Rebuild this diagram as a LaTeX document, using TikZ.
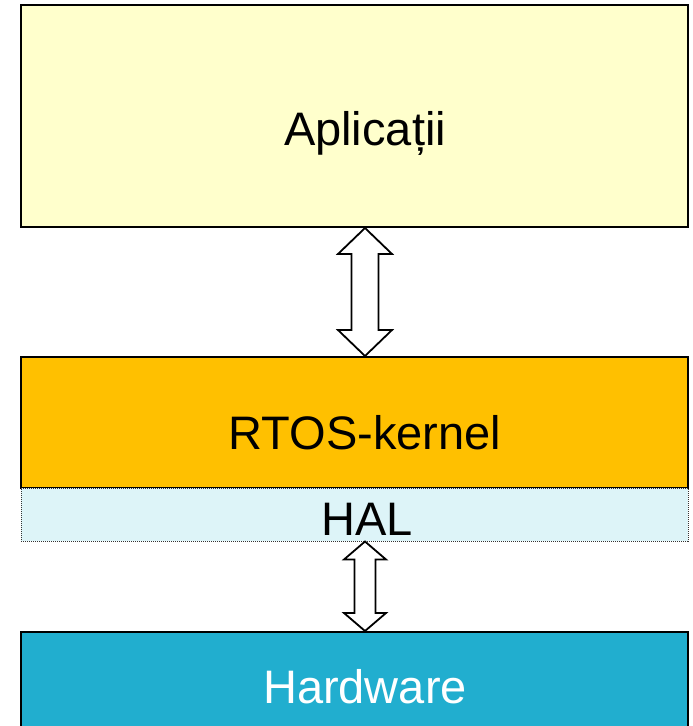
\documentclass[tikz,border=0pt]{standalone}
\usepackage{fontspec}
\setmainfont{Liberation Sans}
\usetikzlibrary{calc}
\definecolor{appfill}{HTML}{FFFFCC}
\definecolor{kernelfill}{HTML}{FFC000}
\definecolor{halfill}{HTML}{DDF4F8}
\definecolor{hwfill}{HTML}{21AECF}
\tikzset{
  layer/.style={draw=black, line width=2pt, rectangle, inner sep=0pt},
  label/.style={anchor=base, inner sep=0pt, font=\fontsize{47}{47}\selectfont},
  flow/.style={draw=black, line width=1.8pt, fill=white, line join=miter},
}
% double-headed block arrow between two anchors:
% #1 top tip, #2 bottom tip, #3 head half-width, #4 head length, #5 shaft half-width
\newcommand\blockarrow[5]{%
  \draw[flow] (#1) -- ($(#1)+(#3,#4)$) -- ($(#1)+(#5,#4)$)
    -- ($(#2)+(#5,-#4)$) -- ($(#2)+(#3,-#4)$) -- (#2)
    -- ($(#2)+(-#3,-#4)$) -- ($(#2)+(-#5,-#4)$)
    -- ($(#1)+(-#5,#4)$) -- ($(#1)+(-#3,#4)$) -- cycle;}
\begin{document}
\begin{tikzpicture}[x=1pt, y={(0,-1pt)}]
  \useasboundingbox (0,0) rectangle (693,726);
  \begin{scope}
    \clip (0,0) rectangle (693,726);
    % layers
    \node[layer, fill=appfill, minimum width=667pt, minimum height=222pt] (app) at (354.5,116) {};
    \node[layer, fill=kernelfill, minimum width=667pt, minimum height=131pt] (kernel) at (354.5,422.5) {};
    \node[rectangle, draw=black!80, densely dotted, line width=1pt, fill=halfill,
          minimum width=667pt, minimum height=53pt, inner sep=0pt] (hal) at (354.5,514.5) {};
    \node[layer, fill=hwfill, minimum width=667pt, minimum height=110pt] (hw) at (354.5,687) {};
    % labels
    \node[label] (tapp) at (365,145) {Aplicații};
    \node[label] (tkernel) at (365,449) {RTOS-kernel};
    \node[label] (thal) at (367,535) {HAL};
    \node[label, text=white] (thw) at (365,703) {Hardware};
    % interfaces between layers
    \coordinate (a1) at ($(app.south)+(10.5,0)$);
    \coordinate (b1) at ($(kernel.north)+(10.5,0)$);
    \coordinate (a2) at ($(hal.south)+(10.5,0)$);
    \coordinate (b2) at ($(hw.north)+(10.5,0)$);
    \blockarrow{a1}{b1}{27}{26}{13.5}
    \blockarrow{a2}{b2}{21}{18}{10.5}
  \end{scope}
\end{tikzpicture}
\end{document}
